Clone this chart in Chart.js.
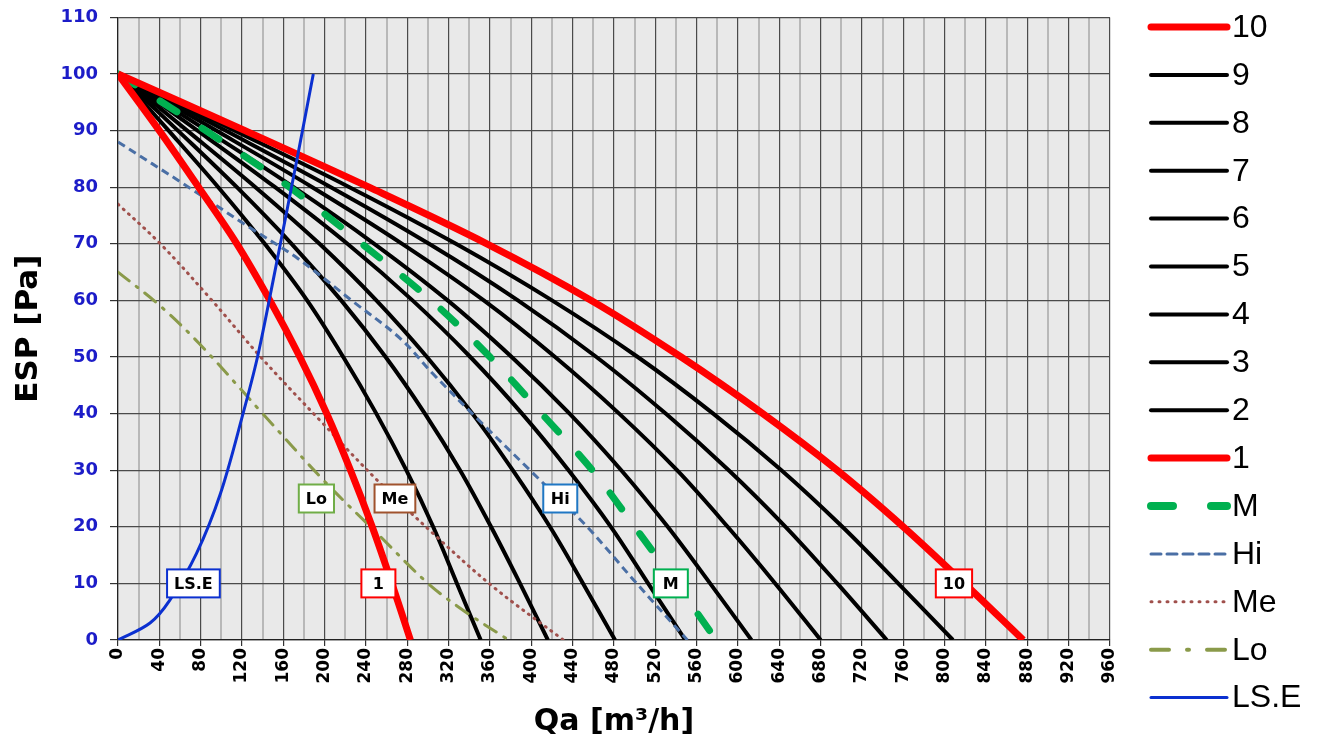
<!DOCTYPE html>
<html>
<head>
<meta charset="utf-8">
<script src="https://cdn.jsdelivr.net/npm/chart.js@4/dist/chart.umd.min.js"></script>
<style>
  html, body { margin: 0; padding: 0; background: #fff; }
</style>
</head>
<body>
<canvas id="myChart" width="1319" height="744"></canvas>
<script>
// Pressure levels (ESP, Pa) at which the fan curves were read
const espLevels = [100, 90, 80, 70, 60, 50, 40, 30, 20, 10, 0];

// Fan curves 1..10 : airflow Qa [m3/h] at each pressure level
const fan1  = [0,  40,  78, 115, 147, 176, 202, 225, 246, 265, 283];
const fan2  = [0,  49,  97, 142, 183, 218, 250, 279, 305, 328, 351];
const fan3  = [0,  58, 115, 168, 216, 259, 297, 331, 361, 389, 416];
const fan4  = [0,  67, 133, 195, 250, 299, 343, 382, 418, 450, 481];
const fan5  = [0,  77, 152, 222, 285, 341, 391, 436, 477, 513, 549];
const fan6  = [0,  86, 170, 248, 319, 381, 437, 487, 532, 573, 613];
const fan7  = [0,  95, 188, 275, 354, 423, 485, 541, 590, 636, 680];
const fan8  = [0, 104, 206, 301, 387, 463, 530, 591, 646, 696, 744];
const fan9  = [0, 113, 224, 327, 420, 503, 576, 642, 701, 755, 808];
const fan10 = [0, 123, 243, 357, 458, 545, 624, 696, 760, 819, 876];

// M curve (same pressure levels)
const mQa = [0, 85, 166, 236, 303, 360, 410, 459, 500, 540, 579];

// Hi / Me / Lo speed curves
const hiQa  = [0, 65, 123, 174, 226, 273, 305, 350, 402, 454, 499, 551];
const hiEsp = [88, 80.4, 73.4, 67.4, 60, 53.3, 47, 38.7, 29.4, 20, 10.6, 0];
const meQa  = [0, 41, 89, 140, 196, 251, 305, 363, 431];
const meEsp = [77, 70, 60.4, 49.6, 38.7, 28.2, 18.8, 9.4, 0];
const loQa  = [0, 41, 79, 140, 199, 251, 300, 336, 378];
const loEsp = [65, 59, 52.3, 40, 28.2, 18.8, 10, 5, 0];

// System curve LS.E
const lsQa  = [0, 31, 50, 76, 99, 121, 135, 150, 174, 189];
const lsEsp = [0, 3, 7, 15.3, 25.8, 40, 50, 63.4, 85.7, 100];

// Boxed labels on the plot
const tagTexts = ['LS.E', 'Lo', 'Me', '1', 'Hi', 'M', '10'];
const tagQa    = [73, 192, 268, 252, 428, 535, 809];
const tagEsp   = [10, 25, 25, 10, 25, 10, 10];

const legendOrder = ['10', '9', '8', '7', '6', '5', '4', '3', '2', '1', 'M', 'Hi', 'Me', 'Lo', 'LS.E'];

const pts = (xs, ys) => xs.map((x, i) => ({ x: x, y: ys[i] }));

const fans = [fan1, fan2, fan3, fan4, fan5, fan6, fan7, fan8, fan9, fan10];
const datasets = fans.map((q, i) => {
    const red = (i === 0 || i === 9);
    return {
        label: String(i + 1),
        data: pts(q, espLevels),
        borderColor: red ? '#ff0000' : '#000000',
        borderWidth: red ? 7 : 4,
        order: red ? 1 : 6,
        legendDash: [],
        legendWidth: red ? 7 : 4
    };
});
datasets.push(
    { label: 'M', data: pts(mQa, espLevels), borderColor: '#00b050', borderWidth: 7,
      borderDash: [20, 30], borderCapStyle: 'round', order: 2, legendDash: [22, 38], legendWidth: 8 },
    { label: 'Hi', data: pts(hiQa, hiEsp), borderColor: '#4a6fa5', borderWidth: 3,
      borderDash: [8, 5], order: 3, legendDash: [10, 6], legendWidth: 3 },
    { label: 'Me', data: pts(meQa, meEsp), borderColor: '#a0504c', borderWidth: 3,
      borderDash: [1, 6], borderCapStyle: 'round', order: 4, legendDash: [1, 7], legendWidth: 3 },
    { label: 'Lo', data: pts(loQa, loEsp), borderColor: '#8a9a4a', borderWidth: 3,
      borderDash: [14, 9, 2, 9], borderCapStyle: 'round', order: 5, legendDash: [18, 18, 2, 18], legendWidth: 4 },
    { label: 'LS.E', data: pts(lsQa, lsEsp), borderColor: '#0b30d0', borderWidth: 3,
      order: 0, legendDash: [], legendWidth: 3 }
);
datasets.forEach(d => {
    d.showLine = true;
    d.pointRadius = 0;
    d.fill = false;
    d.tension = 0.35;
});

// Grey plot background
const plotBg = {
    id: 'plotBg',
    beforeDraw(chart) {
        const { ctx, chartArea: a } = chart;
        ctx.save();
        ctx.fillStyle = '#e9e9e9';
        ctx.fillRect(a.left, a.top, a.right - a.left, a.bottom - a.top);
        ctx.restore();
    }
};

// Boxed curve tags
const tagBoxes = {
    id: 'tagBoxes',
    afterDatasetsDraw(chart) {
        const { ctx, scales } = chart;
        const colors = ['#0b30d0', '#70ad47', '#a0522d', '#ff0000', '#1f77c4', '#00b050', '#ff0000'];
        ctx.save();
        ctx.font = 'bold 16px "DejaVu Sans"';
        ctx.textAlign = 'center';
        ctx.textBaseline = 'middle';
        tagTexts.forEach((t, i) => {
            const cx = scales.x.getPixelForValue(tagQa[i]);
            const cy = scales.y.getPixelForValue(tagEsp[i]);
            const w = Math.max(34, ctx.measureText(t).width + 14);
            const h = 28;
            ctx.fillStyle = '#fff';
            ctx.fillRect(cx - w / 2, cy - h / 2, w, h);
            ctx.strokeStyle = colors[i];
            ctx.lineWidth = 2;
            ctx.strokeRect(cx - w / 2, cy - h / 2, w, h);
            ctx.fillStyle = '#000';
            ctx.fillText(t, cx, cy + 1);
        });
        ctx.restore();
    }
};

// Legend on the right with line samples
const sideLegend = {
    id: 'sideLegend',
    afterDraw(chart) {
        const ctx = chart.ctx;
        ctx.save();
        ctx.font = '32px "Liberation Sans", Arial';
        ctx.textBaseline = 'middle';
        legendOrder.forEach((name, i) => {
            const ds = chart.data.datasets.find(d => d.label === name);
            const y = 27 + i * 47.9;
            ctx.strokeStyle = ds.borderColor;
            ctx.lineWidth = ds.legendWidth;
            ctx.lineCap = 'round';
            ctx.setLineDash(ds.legendDash);
            ctx.beginPath();
            ctx.moveTo(1151, y);
            ctx.lineTo(1227, y);
            ctx.stroke();
            ctx.setLineDash([]);
            ctx.fillStyle = '#000';
            ctx.fillText(name, 1232, y + 1);
        });
        ctx.restore();
    }
};

const ctx = document.getElementById('myChart').getContext('2d');

new Chart(ctx, {
    type: 'scatter',
    data: { datasets: datasets },
    options: {
        responsive: false,
        animation: false,
        layout: { padding: { top: 15, right: 209, left: 0, bottom: 0 } },
        plugins: {
            legend: { display: false },
            tooltip: { enabled: false }
        },
        scales: {
            x: {
                type: 'linear',
                min: 0,
                max: 960,
                afterFit: s => { s.height = 104; },
                ticks: {
                    stepSize: 20,
                    autoSkip: false,
                    minRotation: 90,
                    maxRotation: 90,
                    padding: 2,
                    color: '#000',
                    font: { family: 'DejaVu Sans', weight: 'bold', size: 17 },
                    callback: v => (v % 40 === 0 ? v : '')
                },
                grid: {
                    color: c => (c.tick && c.tick.value % 40 === 0 ? '#4a4a4a' : '#b8b8b8'),
                    lineWidth: c => (c.tick && c.tick.value % 40 === 0 ? 1.2 : 2),
                    tickColor: c => (c.tick && c.tick.value % 40 === 0 ? '#333' : 'rgba(0,0,0,0)'),
                    tickLength: 6
                },
                border: { color: '#222', width: 1.2 },
                title: {
                    display: true,
                    text: 'Qa [m³/h]',
                    color: '#000',
                    font: { family: 'DejaVu Sans', weight: 'bold', size: 30 },
                    padding: { top: 0, bottom: 4 }
                }
            },
            y: {
                min: 0,
                max: 110,
                afterFit: s => { s.width = 118; },
                ticks: {
                    stepSize: 10,
                    padding: 12,
                    color: '#1c1cc8',
                    font: { family: 'DejaVu Sans', weight: 'bold', size: 18, lineHeight: 0.6 }
                },
                grid: { color: '#4a4a4a', lineWidth: 1.2, tickLength: 8, tickColor: '#333' },
                border: { color: '#222', width: 1.2 },
                title: {
                    display: true,
                    text: 'ESP [Pa]',
                    color: '#000',
                    font: { family: 'DejaVu Sans', weight: 'bold', size: 31 },
                    padding: { top: 10, bottom: 0 }
                }
            }
        }
    },
    plugins: [plotBg, tagBoxes, sideLegend]
});
</script>
</body>
</html>
